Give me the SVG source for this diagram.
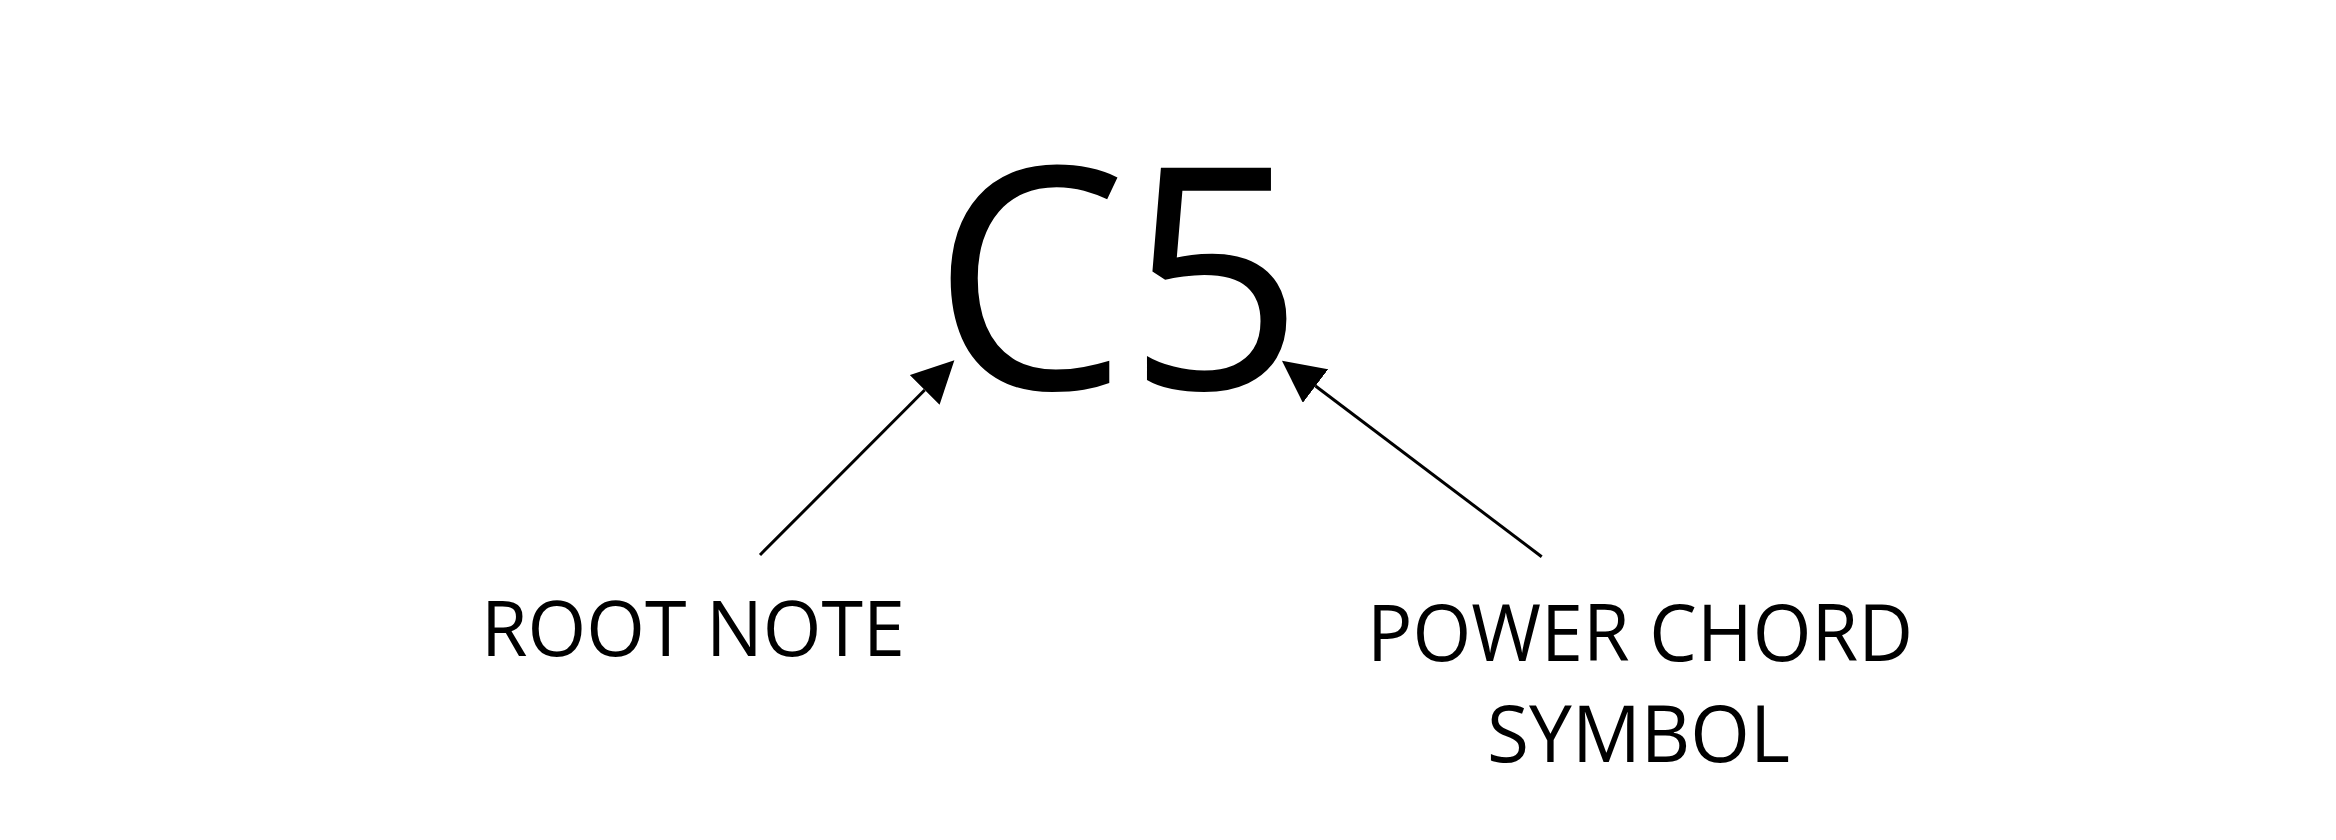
<svg xmlns="http://www.w3.org/2000/svg" width="2336" height="840" viewBox="0 0 2336 840">
  <style>
    text { font-family: "Open Sans", "Liberation Sans", sans-serif; fill: #000; }
    .big { font-size: 310px; }
    .label { font-size: 76px; }
    .label2 { font-size: 78px; }
    .conn { stroke: #000; stroke-width: 3; fill: none; }
  </style>
  <defs>
    <marker id="arrow" markerUnits="userSpaceOnUse" markerWidth="42" markerHeight="42" refX="0" refY="21" orient="auto" viewBox="0 0 42 42">
      <path d="M0,0 L42,21 L0,42 Z" fill="#000"/>
    </marker>
  </defs>
  <rect width="2336" height="840" fill="#fff"/>
  <g id="chord">
    <text class="big" x="1118" y="389" text-anchor="middle">C5</text>
  </g>
  <g id="root-note">
    <text class="label" x="693" y="656" text-anchor="middle" textLength="424" lengthAdjust="spacingAndGlyphs">ROOT NOTE</text>
  </g>
  <g id="power-chord-symbol">
    <text class="label2" x="1640" y="661" text-anchor="middle" textLength="546" lengthAdjust="spacingAndGlyphs">POWER CHORD</text>
    <text class="label2" x="1638.5" y="762" text-anchor="middle" textLength="303" lengthAdjust="spacingAndGlyphs">SYMBOL</text>
  </g>
  <g id="connectors">
    <line class="conn" x1="760" y1="555" x2="924.7" y2="390" marker-end="url(#arrow)"/>
    <line class="conn" x1="1541.7" y1="556.7" x2="1315.5" y2="386" marker-end="url(#arrow)"/>
  </g>
</svg>
